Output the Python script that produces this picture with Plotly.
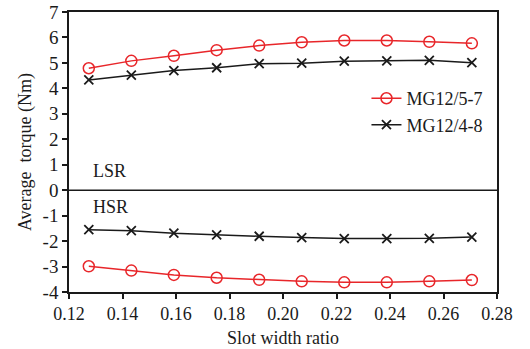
import plotly.graph_objects as go

slot_ratio = [0.1274, 0.1433, 0.1592, 0.1752, 0.1911, 0.2070, 0.2229, 0.2388, 0.2547, 0.2706]
lsr_mg57 = [4.79, 5.08, 5.28, 5.50, 5.68, 5.81, 5.88, 5.88, 5.83, 5.77]
lsr_mg48 = [4.33, 4.52, 4.70, 4.81, 4.97, 4.99, 5.07, 5.08, 5.10, 5.01]
hsr_mg57 = [-2.99, -3.16, -3.33, -3.44, -3.52, -3.58, -3.62, -3.62, -3.58, -3.53]
hsr_mg48 = [-1.55, -1.59, -1.69, -1.76, -1.81, -1.86, -1.90, -1.90, -1.89, -1.84]
y_tick_vals = [-4, -3, -2, -1, 0, 1, 2, 3, 4, 5, 6, 7]
y_tick_text = ["-4", "-3", "-2", "-1", "0", "1", "2", "3", "4", "5", "6", "7"]

FONT = "Liberation Serif"
RED = "#e8262a"
BLK = "#1a1a1a"

fig = go.Figure()
red_style = dict(mode="lines+markers", line=dict(color=RED, width=1.5),
                 marker=dict(symbol="circle-open", size=11, color=RED, line=dict(width=1.5, color=RED)))
blk_style = dict(mode="lines+markers", line=dict(color=BLK, width=1.5),
                 marker=dict(symbol="x-thin-open", size=9, color=BLK, line=dict(width=1.8, color=BLK)))

fig.add_trace(go.Scatter(x=slot_ratio, y=lsr_mg57, name="MG12/5-7", legendgroup="a", **red_style))
fig.add_trace(go.Scatter(x=slot_ratio, y=lsr_mg48, name="MG12/4-8", legendgroup="b", **blk_style))
fig.add_trace(go.Scatter(x=slot_ratio, y=hsr_mg57, name="MG12/5-7", legendgroup="a", showlegend=False, **red_style))
fig.add_trace(go.Scatter(x=slot_ratio, y=hsr_mg48, name="MG12/4-8", legendgroup="b", showlegend=False, **blk_style))

fig.add_shape(type="line", xref="paper", x0=0, x1=1, yref="y", y0=0, y1=0,
              line=dict(color=BLK, width=1.5))

fig.add_annotation(x=0.1282, y=0.75, xref="x", yref="y", text="LSR", showarrow=False,
                   xanchor="left", yanchor="middle", font=dict(family=FONT, size=18, color=BLK))
fig.add_annotation(x=0.1282, y=-0.66, xref="x", yref="y", text="HSR", showarrow=False,
                   xanchor="left", yanchor="middle", font=dict(family=FONT, size=18, color=BLK))

fig.update_layout(
    width=530, height=349,
    margin=dict(l=69, r=33, t=12, b=57, autoexpand=False),
    paper_bgcolor="white", plot_bgcolor="white",
    font=dict(family=FONT, size=18, color=BLK),
    showlegend=True,
    legend=dict(x=0.695, y=0.757, xanchor="left", yanchor="top", bgcolor="rgba(0,0,0,0)",
                font=dict(family=FONT, size=18, color=BLK), tracegroupgap=0, itemwidth=30),
    xaxis=dict(range=[0.12, 0.28], dtick=0.02, tickformat=".2f", showgrid=False, zeroline=False,
               automargin=True,
               ticks="outside", ticklen=5, tickwidth=1.5, tickcolor=BLK,
               showline=True, linecolor=BLK, linewidth=1.5, mirror=True,
               title=dict(text="Slot width ratio", font=dict(family=FONT, size=18), standoff=8),
               tickfont=dict(family=FONT, size=18)),
    yaxis=dict(range=[-4, 7], tickvals=y_tick_vals, ticktext=y_tick_text, showgrid=False, zeroline=False,
               automargin=True,
               ticks="outside", ticklen=5, tickwidth=1.5, tickcolor=BLK,
               showline=True, linecolor=BLK, linewidth=1.5, mirror=True,
               title=dict(text="Average  torque (Nm)", font=dict(family=FONT, size=18), standoff=6),
               tickfont=dict(family=FONT, size=19)),
)

fig.write_html("out.html", config={"displayModeBar": False},
               post_script="document.body.style.margin='0';document.body.style.overflow='hidden';")
